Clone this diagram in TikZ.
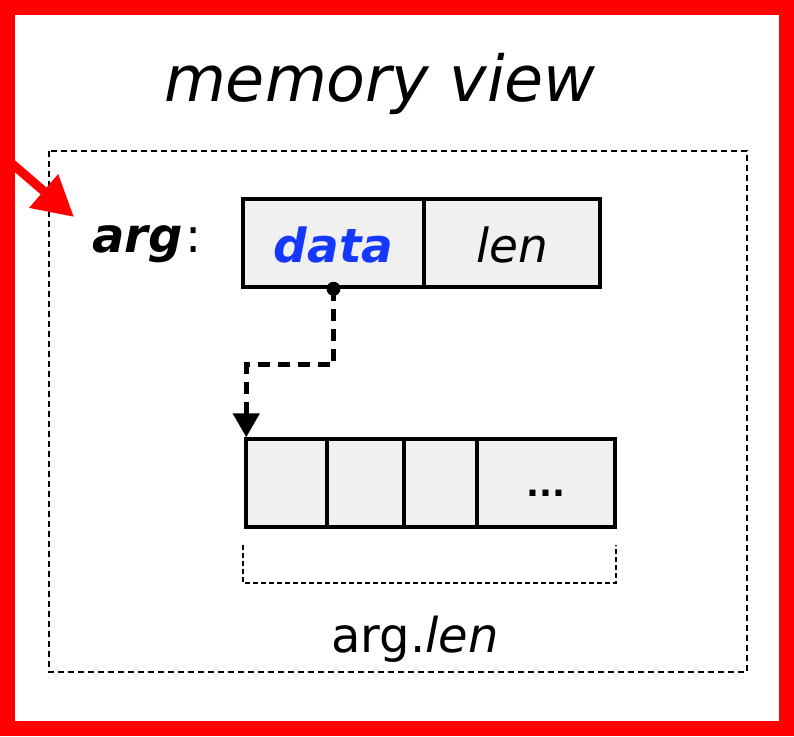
\documentclass[tikz,border=0pt]{standalone}
\usepackage{fontspec}
\setmainfont{DejaVu Sans}
\usetikzlibrary{arrows.meta}
\definecolor{redb}{RGB}{255,0,0}
\definecolor{cellgray}{RGB}{240,240,240}
\definecolor{datablue}{RGB}{20,56,255}
\begin{document}
\begin{tikzpicture}[x=1pt,y=-1pt,
  cell/.style={draw=black, line width=3.5pt, fill=cellgray, inner sep=0pt,
    minimum height=88pt, text height=38pt, text depth=0pt,
    font=\fontsize{47}{47}\selectfont},
  thindash/.style={draw=black, line width=1.8pt, dash pattern=on 6pt off 4pt},
  ptr/.style={draw=black, line width=5pt, dash pattern=on 12pt off 8pt,
    -{Triangle[length=24pt,width=26pt]}},
  redarrow/.style={draw=redb, line width=9pt, -{Triangle[length=40pt,width=42pt]}}]
\useasboundingbox (0,0) rectangle (794,736);
% outer red frame
\draw[redb, line width=15pt, line join=miter] (7.5,7.5) rectangle (786.5,728.5);
% title
\node[anchor=base, inner sep=0pt, font=\fontsize{63.5}{63.5}\selectfont\itshape] (title) at (380,101) {memory view};
% dashed region
\draw[thindash] (49,151) rectangle (747,672);
% red arrow
\coordinate (rstart) at (-4,150);
\coordinate (rtip) at (74,217);
\draw[redarrow] (rstart) -- (rtip);
% arg label
\node[anchor=base west, inner sep=0pt, font=\fontsize{48}{48}\selectfont] (arg) at (92,252) {\textbf{\textit{arg}}\kern3pt:};
% struct
\node[cell, minimum width=181pt] (datac) at (333.5,243) {\textcolor{datablue}{\textbf{\textit{data}}}};
\node[cell, minimum width=176pt] (lenc) at (512,243) {\textit{len}};
% array
\node[cell, minimum width=81pt] (c1) at (286.5,483) {};
\node[cell, minimum width=77pt] (c2) at (365.5,483) {};
\node[cell, minimum width=73pt] (c3) at (440.5,483) {};
\node[cell, minimum width=138pt] (c4) at (546,483) {};
\node[anchor=base, inner sep=0pt, font=\fontsize{34}{34}\selectfont\bfseries] (dots) at (c4.center |- 0,496) {...};
% pointer
\fill (datac.south) circle (7pt);
\draw[ptr] (datac.south) -- ++(0,76) -| ([xshift=2pt]c1.north west);
% bracket
\draw[thindash, line width=1.6pt, dash pattern=on 5pt off 3pt] (243,545) -- (243,583) -- (616,583) -- (616,545);
\node[anchor=base, inner sep=0pt, font=\fontsize{48}{48}\selectfont] (arglen) at (415,652) {arg.\textit{len}};
\end{tikzpicture}
\end{document}
